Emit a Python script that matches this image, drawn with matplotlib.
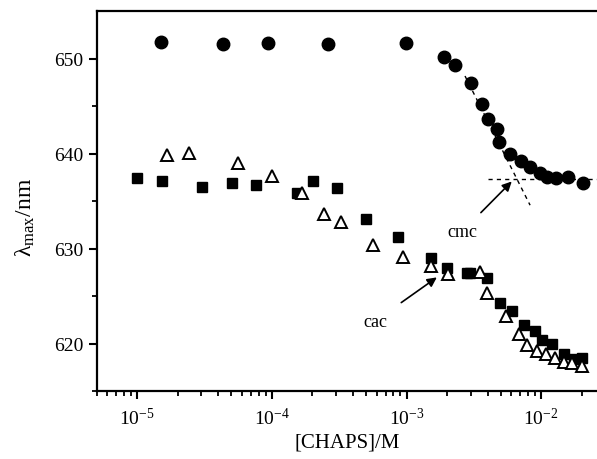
import numpy as np
import matplotlib
matplotlib.use("Agg")
import matplotlib.pyplot as plt
from matplotlib.ticker import LogLocator, FixedLocator, NullFormatter

# circles: CHAPS alone
circ_x = [1.51e-5, 4.35e-5, 9.4e-5, 2.62e-4, 9.94e-4, 1.91e-3, 2.30e-3, 3.01e-3, 3.63e-3,
          4.02e-3, 4.69e-3, 4.90e-3, 5.89e-3, 7.07e-3, 8.28e-3, 9.84e-3, 1.10e-2, 1.29e-2,
          1.59e-2, 2.06e-2]
circ_y = [651.8, 651.6, 651.7, 651.6, 651.7, 650.2, 649.4, 647.5, 645.3,
          643.7, 642.6, 641.3, 640.0, 639.3, 638.6, 638.0, 637.6, 637.5,
          637.6, 636.9]

# filled squares
sq_x = [1.0e-5, 1.54e-5, 3.05e-5, 5.05e-5, 7.6e-5, 1.53e-4, 2.02e-4, 3.04e-4, 5.01e-4,
        8.71e-4, 1.52e-3, 2.01e-3, 2.81e-3, 2.97e-3, 3.99e-3, 4.96e-3, 6.05e-3, 7.47e-3,
        9.02e-3, 1.01e-2, 1.20e-2, 1.48e-2, 1.74e-2, 2.01e-2]
sq_y = [637.5, 637.2, 636.5, 636.9, 636.7, 635.9, 637.2, 636.4, 633.1,
        631.3, 629.0, 628.0, 627.5, 627.5, 626.9, 624.3, 623.5, 622.0,
        621.4, 620.4, 620.0, 618.9, 618.4, 618.5]

# open triangles
tri_x = [1.66e-5, 2.43e-5, 5.6e-5, 1.01e-4, 1.67e-4, 2.42e-4, 3.27e-4, 5.62e-4, 9.39e-4,
         1.52e-3, 2.05e-3, 3.52e-3, 3.99e-3, 5.5e-3, 6.9e-3, 7.91e-3, 9.29e-3, 1.09e-2,
         1.27e-2, 1.47e-2, 1.69e-2, 2.0e-2]
tri_y = [639.9, 640.1, 639.0, 637.7, 635.9, 633.7, 632.8, 630.4, 629.1,
         628.2, 627.4, 627.6, 625.4, 622.9, 621.0, 619.9, 619.3, 618.9,
         618.5, 618.1, 618.0, 617.7]

plt.rcParams['font.family'] = ['Liberation Serif', 'DejaVu Serif']
plt.rcParams['mathtext.fontset'] = 'custom'
plt.rcParams['mathtext.rm'] = 'Liberation Serif'
plt.rcParams['mathtext.it'] = 'Liberation Serif:italic'

fig = plt.figure(figsize=(5.97, 4.60), dpi=100)
ax = fig.add_axes([0.162, 0.147, 0.838, 0.826])

ax.plot(circ_x, circ_y, 'o', color='black', markersize=9, linestyle='none')
ax.plot(sq_x, sq_y, 's', color='black', markersize=7.5, linestyle='none')
ax.plot(tri_x, tri_y, '^', markerfacecolor='white', markeredgecolor='black',
        markeredgewidth=1.4, markersize=9, linestyle='none')

# cmc construction lines
ax.plot([2.72e-3, 8.28e-3], [648.2, 634.6], '--', color='black', lw=1, dashes=(3, 3))
ax.plot([4.06e-3, 2.6e-2], [637.4, 637.4], '--', color='black', lw=1, dashes=(3, 3))

ax.annotate('cmc', xy=(6.05e-3, 637.1), xytext=(2.58e-3, 631.8), fontsize=13,
            ha='center', va='center',
            arrowprops=dict(arrowstyle='-|>', color='black', lw=1.2, shrinkA=8, shrinkB=0,
                            mutation_scale=14))
ax.annotate('cac', xy=(1.68e-3, 627.0), xytext=(5.85e-4, 622.4), fontsize=13,
            ha='center', va='center',
            arrowprops=dict(arrowstyle='-|>', color='black', lw=1.2, shrinkA=10, shrinkB=0,
                            mutation_scale=14))

ax.set_xscale('log')
ax.set_xlim(5e-6, 2.6e-2)
ax.set_ylim(615, 655)

ax.xaxis.set_major_locator(FixedLocator([1e-5, 1e-4, 1e-3, 1e-2]))
ax.set_xticklabels([r'10$^{-5}$', r'10$^{-4}$', r'10$^{-3}$', r'10$^{-2}$'])
ax.xaxis.set_minor_locator(LogLocator(base=10, subs=np.arange(2, 10)))
ax.xaxis.set_minor_formatter(NullFormatter())
ax.set_yticks([620, 630, 640, 650])
ax.yaxis.set_minor_locator(FixedLocator([615, 625, 635, 645]))

ax.spines['right'].set_visible(False)
for s in ['left', 'top', 'bottom']:
    ax.spines[s].set_linewidth(1.6)

ax.tick_params(which='major', direction='out', length=6, width=1.5, labelsize=14)
ax.tick_params(which='minor', direction='out', length=3.5, width=1.3)
ax.tick_params(axis='x', pad=5)

ax.set_xlabel('[CHAPS]/M', fontsize=15, labelpad=3)
ax.set_ylabel(r'λ$_{\rm max}$/nm', fontsize=17)
ax.yaxis.set_label_coords(-0.12, 0.46)

fig.savefig('out.png', dpi=100)
